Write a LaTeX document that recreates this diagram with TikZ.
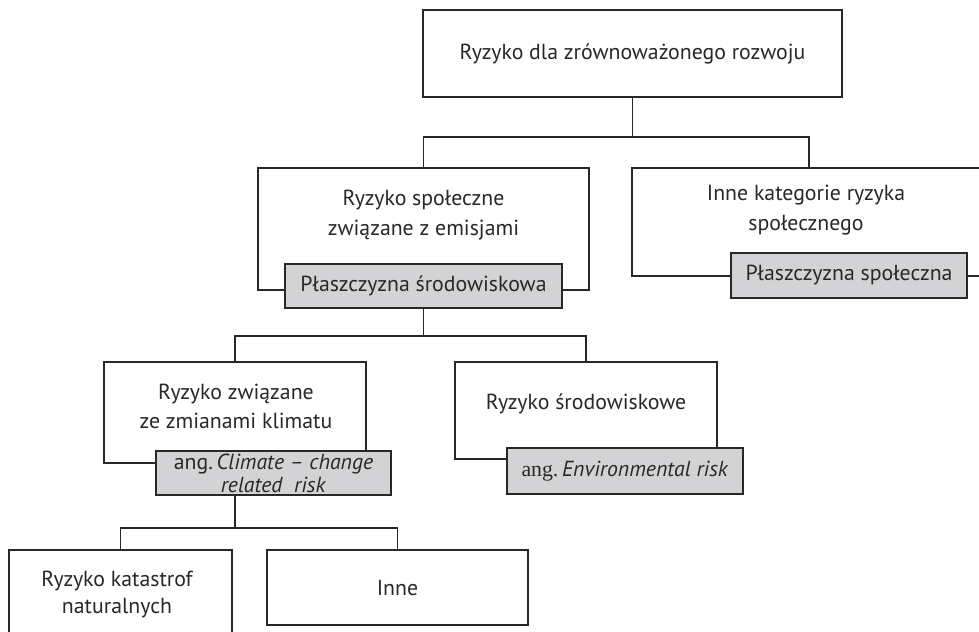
\documentclass[tikz,border=0pt]{standalone}
\usepackage{fontspec}
\setmainfont{PT Sans}
\newfontfamily\serifang{Liberation Serif}
\usetikzlibrary{positioning}
\definecolor{tagfill}{RGB}{211,211,213}
\definecolor{inkgray}{RGB}{40,40,40}
\newcommand{\px}{0.025cm}

\begin{document}
\begin{tikzpicture}[
    x=0.025cm, y=-0.025cm,
    box/.style={rectangle, draw=inkgray, line width=1pt, fill=white, anchor=north west, inner sep=0pt, outer sep=0pt, font=\fontsize{15.5}{21}\selectfont, text=inkgray, align=center},
    tag/.style={box, fill=tagfill},
    caption/.style={rectangle, inner sep=0pt, font=\fontsize{15.5}{20.5}\selectfont, text=inkgray, align=center},
    line/.style={draw=inkgray, line width=1pt}
]
    \useasboundingbox (0,0) rectangle (979,631);
    \clip (0,0) rectangle (979,631);

    % Level 1
    \node[box, minimum width=419*\px, minimum height=87*\px] (root) at (423,10) {Ryzyko dla zrównoważonego rozwoju};

    % Level 2
    \node[box, minimum width=331*\px, minimum height=122*\px] (social) at (258,168) {};
    \node[caption, font=\fontsize{15.5}{21.3}\selectfont] (socialtxt) at (423.5,215) {Ryzyko społeczne\\związane z emisjami};
    \node[tag, minimum width=277*\px, minimum height=44*\px] (socialtag) at (285,264) {Płaszczyzna środowiskowa};

    \node[box, minimum width=354*\px, minimum height=108*\px] (other) at (632,168) {};
    \node[caption, font=\fontsize{15.5}{21.3}\selectfont] (othertxt) at (806,210) {Inne kategorie ryzyka\\społecznego};
    \node[tag, minimum width=236*\px, minimum height=45*\px] (othertag) at (731,253) {Płaszczyzna społeczna};

    \draw[line] (root.south) -- ++(0,40) -| (social.north);
    \draw[line] (root.south) -- ++(0,40) -| (other.north);

    % Level 3
    \node[box, minimum width=262*\px, minimum height=101*\px] (climate) at (104,362) {};
    \node[caption] (climatetxt) at (236,406) {Ryzyko związane\\ze zmianami klimatu};
    \node[tag, minimum width=235*\px, minimum height=44*\px, font=\fontsize{15.5}{16.5}\selectfont] (climatetag) at (156,451) {ang.\,\textit{Climate -- change}\\\textit{related~ risk}};

    \node[box, minimum width=262*\px, minimum height=97*\px] (environ) at (455,362) {};
    \node[caption] (environtxt) at (586,404) {Ryzyko środowiskowe};
    \node[tag, minimum width=236*\px, minimum height=46*\px] (environtag) at (507,448) {{\serifang ang.}\,\textit{Environmental risk}};

    \draw[line] (socialtag.south) -- ++(0,28) -| (climate.north);
    \draw[line] (socialtag.south) -- ++(0,28) -| (environ.north);

    % Level 4
    \node[box, minimum width=223*\px, minimum height=100*\px] (natural) at (9,550) {};
    \node[caption, font=\fontsize{15.5}{19.2}\selectfont] (naturaltxt) at (117,595) {Ryzyko katastrof\\naturalnych};
    \node[box, minimum width=261*\px, minimum height=75*\px] (rest) at (267,550) {Inne};

    \draw[line] (climatetag.south -| climate.south) -- ++(0,33) -| (natural.north);
    \draw[line] (climatetag.south -| climate.south) -- ++(0,33) -| (rest.north);

\end{tikzpicture}
\end{document}
